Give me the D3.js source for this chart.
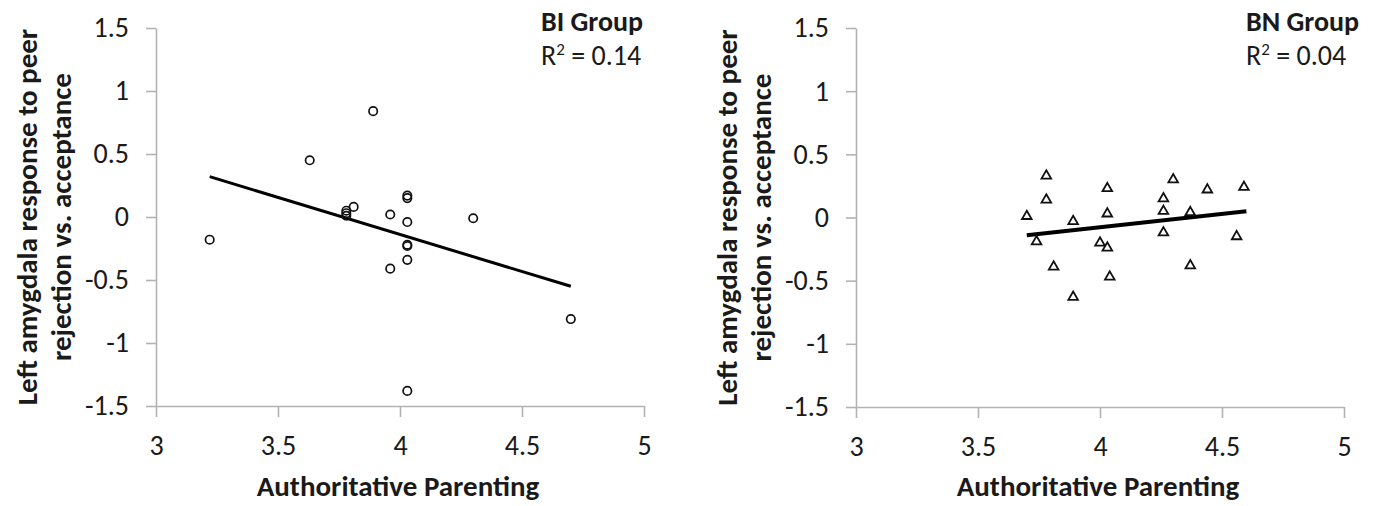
<!DOCTYPE html>
<html>
<head>
<meta charset="utf-8">
<script src="https://cdn.jsdelivr.net/npm/d3@7"></script>
<style>
  body { margin: 0; background: #fff; }
  svg { display: block; }
  text { font-family: Calibri, Carlito, Lato, "Open Sans", sans-serif; fill: #1a1a1a; }
</style>
</head>
<body>
<svg id="chart" width="1373" height="506"></svg>
<script>
// tick values
const xTicks = [3, 3.5, 4, 4.5, 5];
const yTicks = [-1.5, -1, -0.5, 0, 0.5, 1, 1.5];

// BI group (circles)
const biX = [3.22, 3.63, 3.89, 3.78, 3.78, 3.78, 3.81, 3.96, 4.03, 4.03, 4.03, 4.03, 4.03, 4.03, 3.96, 4.30, 4.70, 4.03];
const biY = [-0.18, 0.45, 0.84, 0.05, 0.03, 0.01, 0.08, 0.02, 0.17, 0.15, -0.04, -0.22, -0.23, -0.34, -0.41, -0.01, -0.81, -1.38];
const biTrendX = [3.22, 4.70];
const biTrendY = [0.32, -0.55];

// BN group (triangles)
const bnX = [3.70, 3.78, 3.78, 3.74, 3.81, 3.89, 3.89, 4.03, 4.03, 4.00, 4.03, 4.04, 4.26, 4.26, 4.26, 4.30, 4.37, 4.37, 4.44, 4.56, 4.59];
const bnY = [0.01, 0.33, 0.14, -0.19, -0.39, -0.03, -0.63, 0.23, 0.03, -0.20, -0.24, -0.47, 0.15, 0.05, -0.12, 0.30, 0.04, -0.38, 0.22, -0.15, 0.24];
const bnTrendX = [3.70, 4.60];
const bnTrendY = [-0.14, 0.05];

const svg = d3.select("#chart");

function panel(opts) {
    const { left, right, top, bottom, xs, ys, trendX, trendY, symbol, trendWidth, group, r2, titleX } = opts;

    const x = d3.scaleLinear().domain([3, 5]).range([left, right]);
    const y = d3.scaleLinear().domain([-1.5, 1.5]).range([bottom, top]);

    const g = svg.append("g");

    // axes, excel style light gray with outside ticks
    const xAxis = g.append("g")
        .attr("transform", `translate(0,${bottom})`)
        .call(d3.axisBottom(x).tickValues(xTicks).tickSize(11).tickSizeOuter(0).tickPadding(18)
            .tickFormat(d => String(d)));
    const yAxis = g.append("g")
        .attr("transform", `translate(${left},0)`)
        .call(d3.axisLeft(y).tickValues(yTicks).tickSize(10).tickSizeOuter(0).tickPadding(17)
            .tickFormat(d => String(d)));

    [xAxis, yAxis].forEach(a => {
        a.selectAll("path, line").attr("stroke", "#b3b3b3").attr("stroke-width", 1.6);
        a.selectAll("text").style("font-size", "28px").attr("fill", "#262626");
    });

    // axis titles
    g.append("text")
        .attr("x", (left + right) / 2 - 2)
        .attr("y", 496)
        .attr("text-anchor", "middle")
        .style("font-size", "29px")
        .style("font-weight", "bold")
        .text("Authoritative Parenting");

    const yt = g.append("text")
        .attr("transform", `translate(${left - 119},${(top + bottom) / 2}) rotate(-90)`)
        .attr("text-anchor", "middle")
        .style("font-size", "29px")
        .style("font-weight", "bold");
    yt.append("tspan").attr("x", 0).attr("dy", 0).text("Left amygdala response to peer");
    yt.append("tspan").attr("x", 0).attr("dy", 34).text("rejection vs. acceptance");

    // group label and R²
    g.append("text")
        .attr("x", titleX).attr("y", 31)
        .style("font-size", "28px").style("font-weight", "bold")
        .text(group);
    const rt = g.append("text")
        .attr("x", titleX).attr("y", 65)
        .style("font-size", "28px");
    rt.append("tspan").text("R");
    rt.append("tspan").attr("dy", -10).style("font-size", "17px").text("2");
    rt.append("tspan").attr("dy", 10).text(" = " + r2);

    // trend line
    g.append("line")
        .attr("x1", x(trendX[0])).attr("y1", y(trendY[0]))
        .attr("x2", x(trendX[1])).attr("y2", y(trendY[1]))
        .attr("stroke", "#000")
        .attr("stroke-width", trendWidth);

    // points
    const pts = xs.map((d, i) => ({ x: d, y: ys[i] }));
    if (symbol === "circle") {
        g.selectAll("circle.pt").data(pts).join("circle")
            .attr("class", "pt")
            .attr("cx", d => x(d.x)).attr("cy", d => y(d.y))
            .attr("r", 4.2)
            .attr("fill", "none")
            .attr("stroke", "#111")
            .attr("stroke-width", 1.7);
    } else {
        const tri = d3.symbol().type(d3.symbolTriangle).size(40);
        g.selectAll("path.pt").data(pts).join("path")
            .attr("class", "pt")
            .attr("d", tri)
            .attr("transform", d => `translate(${x(d.x)},${y(d.y)})`)
            .attr("fill", "none")
            .attr("stroke", "#111")
            .attr("stroke-width", 1.8);
    }
}

panel({ left: 156, right: 644, top: 28, bottom: 406, xs: biX, ys: biY,
        trendX: biTrendX, trendY: biTrendY, symbol: "circle", trendWidth: 3,
        group: "BI Group", r2: "0.14", titleX: 541 });
panel({ left: 856, right: 1344, top: 28, bottom: 407, xs: bnX, ys: bnY,
        trendX: bnTrendX, trendY: bnTrendY, symbol: "triangle", trendWidth: 4,
        group: "BN Group", r2: "0.04", titleX: 1246 });
</script>
</body>
</html>
